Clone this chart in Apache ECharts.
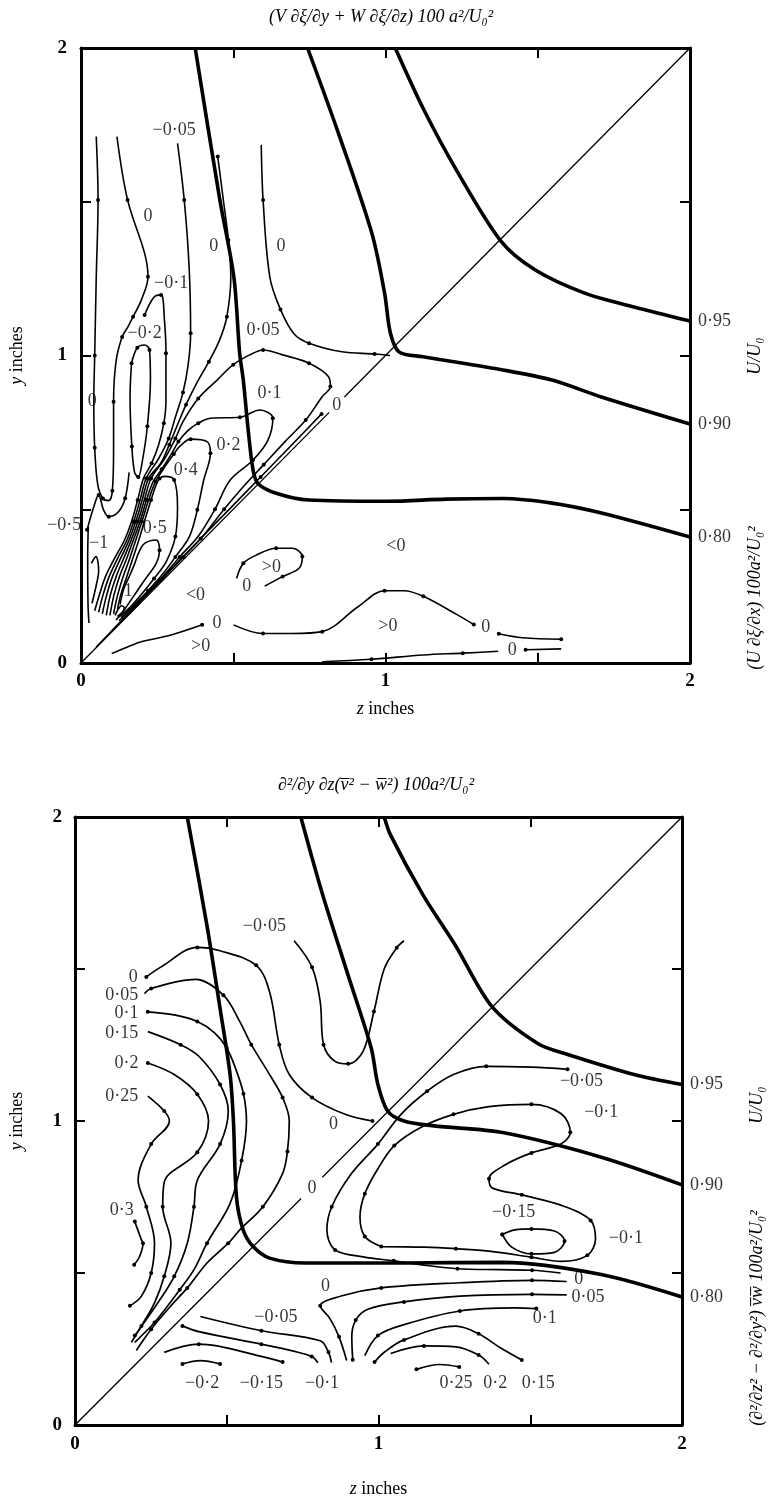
<!DOCTYPE html>
<html>
<head>
<meta charset="utf-8">
<script src="https://cdn.jsdelivr.net/npm/echarts@6/dist/echarts.min.js"></script>
<style>
  html, body { margin: 0; padding: 0; background: #fff; }
  #chart { width: 772px; height: 1499px; }
</style>
</head>
<body>
<div id="chart"></div>
<script>
// upper plot: (V dxi/dy + W dxi/dz) 100 a^2/U0^2, points are [z, y] in inches
const A_u95 = [[1.032,2.0],[1.123,1.805],[1.233,1.603],[1.379,1.372],[1.492,1.278],[1.654,1.203],[1.816,1.158],[2.0,1.112]]
const A_u90 = [[0.744,2.0],[0.845,1.724],[0.955,1.398],[0.997,1.203],[1.016,1.073],[1.045,1.011],[1.123,0.996],[1.385,0.953],[1.547,0.920],[1.709,0.865],[2.0,0.777]]
const A_u80 = [[0.375,2.0],[0.456,1.506],[0.502,1.255],[0.521,1.008],[0.533,0.92],[0.549,0.758],[0.565,0.628],[0.581,0.584],[0.641,0.552],[0.749,0.530],[1.006,0.526],[1.2,0.533],[1.385,0.535],[1.547,0.520],[1.709,0.488],[2.0,0.41]]
const A_diag = [[[0, 0],[0.815,0.815]],[[0.865,0.865],[2, 2]]]

const A_n1 = [[0.050,1.712],[0.056,1.506],[0.050,1.251],[0.045,1.0],[0.042,0.85],[0.045,0.70],[0.055,0.58],[0.072,0.535],[0.091,0.528],[0.103,0.56],[0.107,0.70],[0.107,0.85],[0.115,0.98],[0.135,1.06],[0.155,1.095],[0.171,1.126],[0.198,1.180],[0.220,1.256],[0.209,1.332],[0.153,1.506],[0.118,1.712]]
const A_n1b = [[0.020,0.433],[0.042,0.508],[0.058,0.546],[0.074,0.498],[0.091,0.476],[0.123,0.492],[0.145,0.536],[0.158,0.62]]
const A_n3 = [[0.166,0.975],[0.185,1.025],[0.209,1.034],[0.225,1.018],[0.228,0.92],[0.218,0.77],[0.202,0.66],[0.188,0.605],[0.176,0.62],[0.167,0.704],[0.161,0.866],[0.166,0.975]]
const A_n4 = [[0.209,1.132],[0.24,1.19],[0.263,1.197],[0.274,1.115],[0.279,1.007],[0.279,0.85],[0.272,0.78],[0.255,0.71],[0.232,0.65],[0.205,0.60],[0.186,0.53],[0.166,0.46],[0.143,0.40],[0.11,0.34],[0.08,0.28],[0.06,0.22],[0.045,0.17]]
const A_n5 = [[0.317,1.690],[0.339,1.506],[0.355,1.289],[0.360,1.072],[0.352,0.97],[0.335,0.88],[0.31,0.80],[0.288,0.73],[0.255,0.665],[0.214,0.60],[0.194,0.53],[0.173,0.46],[0.151,0.40],[0.12,0.34],[0.092,0.28],[0.072,0.22],[0.058,0.165]]
const A_n6 = [[0.449,1.647],[0.466,1.517],[0.484,1.376],[0.492,1.256],[0.479,1.126],[0.455,1.05],[0.42,0.98],[0.38,0.91],[0.345,0.84],[0.315,0.77],[0.29,0.71],[0.262,0.65],[0.222,0.60],[0.201,0.53],[0.18,0.46],[0.158,0.40],[0.13,0.34],[0.103,0.28],[0.084,0.22],[0.07,0.16]]
const A_p005 = [[0.083,0.155],[0.096,0.22],[0.115,0.28],[0.14,0.34],[0.165,0.40],[0.187,0.46],[0.208,0.53],[0.23,0.60],[0.275,0.665],[0.31,0.73],[0.335,0.785],[0.385,0.86],[0.447,0.92],[0.50,0.97],[0.554,1.002],[0.598,1.018],[0.662,1.002],[0.749,0.975],[0.813,0.931],[0.819,0.899],[0.792,0.866],[0.738,0.790],[0.67,0.72],[0.60,0.645],[0.53,0.57],[0.47,0.50],[0.40,0.412],[0.336,0.345],[0.27,0.277],[0.21,0.215],[0.16,0.162],[0.128,0.132]]
const A_p01 = [[0.095,0.155],[0.108,0.22],[0.126,0.28],[0.15,0.34],[0.172,0.40],[0.194,0.46],[0.215,0.53],[0.237,0.59],[0.265,0.63],[0.297,0.68],[0.32,0.72],[0.35,0.755],[0.385,0.78],[0.425,0.796],[0.522,0.799],[0.587,0.823],[0.630,0.796],[0.614,0.725],[0.565,0.660],[0.49,0.595],[0.44,0.50],[0.385,0.412],[0.324,0.345],[0.268,0.28],[0.21,0.22],[0.16,0.17],[0.125,0.138]]
const A_p02 = [[0.107,0.16],[0.12,0.22],[0.138,0.28],[0.16,0.34],[0.18,0.40],[0.20,0.46],[0.222,0.53],[0.245,0.59],[0.28,0.645],[0.305,0.68],[0.325,0.705],[0.360,0.728],[0.414,0.720],[0.425,0.682],[0.403,0.595],[0.382,0.498],[0.356,0.411],[0.31,0.345],[0.265,0.285],[0.22,0.235],[0.175,0.19],[0.132,0.148]]
const A_p04 = [[0.12,0.175],[0.13,0.22],[0.15,0.28],[0.17,0.34],[0.19,0.40],[0.208,0.46],[0.23,0.53],[0.245,0.575],[0.258,0.60],[0.275,0.607],[0.306,0.595],[0.317,0.508],[0.310,0.411],[0.28,0.33],[0.24,0.275],[0.2,0.225],[0.16,0.18],[0.125,0.15]]
const A_p05 = [[0.128,0.19],[0.14,0.24],[0.158,0.28],[0.175,0.32],[0.19,0.36],[0.209,0.389],[0.247,0.400],[0.258,0.367],[0.247,0.324],[0.209,0.270],[0.172,0.216],[0.14,0.17],[0.115,0.14]]
const A_p1 = [[0.112,0.155],[0.122,0.175],[0.133,0.186],[0.142,0.18],[0.135,0.164],[0.12,0.152]]
const A_m1 = [[0.024,0.443],[0.022,0.346],[0.023,0.194],[0.026,0.13]]
const A_m2 = [[0.034,0.324],[0.049,0.346],[0.058,0.302],[0.049,0.248],[0.036,0.194]]
const A_z0top = [[0.592,1.685],[0.598,1.506],[0.620,1.256],[0.655,1.15],[0.70,1.07],[0.749,1.040],[0.857,1.012],[0.964,1.005],[1.015,1.0]]
const A_z0low = [[0.79,0.81],[0.69,0.707],[0.59,0.605],[0.49,0.503],[0.393,0.405],[0.325,0.335],[0.26,0.268],[0.193,0.199],[0.115,0.119],[0.05,0.052]]
const A_gt0 = [[0.511,0.275],[0.533,0.324],[0.576,0.351],[0.641,0.373],[0.695,0.373],[0.727,0.346],[0.716,0.308],[0.662,0.281],[0.603,0.250]]
const A_w1 = [[0.101,0.031],[0.155,0.053],[0.198,0.069],[0.296,0.091],[0.398,0.124]]
const A_w2 = [[0.501,0.124],[0.598,0.096],[0.695,0.096],[0.792,0.102],[0.910,0.183],[0.997,0.235],[1.06,0.235],[1.124,0.217],[1.232,0.159],[1.29,0.125]]
const A_w3 = [[1.372,0.095],[1.45,0.082],[1.577,0.077]]
const A_b1 = [[0.792,0.004],[0.954,0.012],[1.124,0.026],[1.254,0.032],[1.37,0.038]]
const A_b2 = [[1.46,0.043],[1.577,0.046]]

const A_labels = [
  [0.306,1.733,'−0·05'],[0.220,1.452,'0'],[0.436,1.354,'0'],[0.657,1.354,'0'],[0.296,1.235,'−0·1'],
  [0.209,1.072,'−0·2'],[0.598,1.083,'0·05'],[0.037,0.850,'0'],[0.619,0.877,'0·1'],[0.484,0.709,'0·2'],
  [0.344,0.628,'0·4'],[0.242,0.438,'0·5'],[0.058,0.389,'−1'],[0.155,0.232,'1'],[0.840,0.838,'0'],
  [0.376,0.221,'<0'],[0.625,0.311,'>0'],[0.544,0.248,'0'],[1.034,0.378,'<0'],[-0.055,0.449,'−0·5'],
  [0.447,0.129,'0'],[0.393,0.053,'>0'],[1.008,0.118,'>0'],[1.329,0.116,'0'],[1.416,0.040,'0']
]
const A_uLabels = [[2,1.112,'0·95'],[2,0.777,'0·90'],[2,0.41,'0·80']]

// lower plot: d2/dydz (v2 - w2) 100 a^2/U0^2
const B_u95 = [[1.019,2.0],[1.039,1.942],[1.147,1.743],[1.255,1.575],[1.374,1.376],[1.526,1.254],[1.626,1.218],[1.842,1.153],[2.0,1.12]]
const B_u90 = [[0.744,2.0],[0.814,1.751],[0.900,1.479],[0.976,1.24],[0.998,1.120],[1.030,1.033],[1.084,1.0],[1.182,0.984],[1.409,0.962],[1.734,0.881],[2.0,0.79]]
const B_u80 = [[0.370,2.0],[0.435,1.642],[0.478,1.370],[0.511,1.153],[0.522,1.0],[0.532,0.750],[0.554,0.642],[0.587,0.587],[0.641,0.549],[0.760,0.533],[1.084,0.533],[1.409,0.535],[1.734,0.495],[2.0,0.421]]
const B_diag = [[[0, 0],[0.745,0.745]],[[0.815,0.815],[2, 2]]]

const B_p0 = [[0.235,1.474],[0.284,1.507],[0.403,1.571],[0.478,1.560],[0.597,1.512],[0.641,1.425],[0.673,1.251],[0.706,1.153],[0.781,1.077],[0.890,1.022],[0.98,1.0]]
const B_p005 = [[0.229,1.419],[0.251,1.436],[0.397,1.466],[0.489,1.414],[0.543,1.327],[0.581,1.251],[0.641,1.153],[0.684,1.077],[0.706,1.0],[0.700,0.90],[0.684,0.827],[0.619,0.718],[0.543,0.642],[0.505,0.598],[0.435,0.533],[0.370,0.451],[0.316,0.392],[0.251,0.315],[0.202,0.245]]
const B_p01 = [[0.240,1.359],[0.327,1.349],[0.403,1.327],[0.46,1.29],[0.50,1.24],[0.53,1.17],[0.555,1.09],[0.565,1.0],[0.549,0.870],[0.511,0.729],[0.435,0.598],[0.392,0.511],[0.345,0.445],[0.30,0.385],[0.262,0.337],[0.197,0.272]]
const B_p015 = [[0.240,1.294],[0.348,1.251],[0.408,1.213],[0.478,1.120],[0.505,1.033],[0.478,0.924],[0.403,0.805],[0.392,0.718],[0.370,0.598],[0.327,0.489],[0.273,0.402],[0.197,0.294]]
const B_p02 = [[0.240,1.191],[0.327,1.153],[0.403,1.088],[0.440,1.0],[0.403,0.897],[0.294,0.799],[0.289,0.718],[0.316,0.598],[0.294,0.489],[0.262,0.402],[0.219,0.326],[0.186,0.272]]
const B_p025 = [[0.240,1.082],[0.294,1.033],[0.311,1.0],[0.251,0.924],[0.208,0.805],[0.235,0.718],[0.262,0.598],[0.251,0.5],[0.219,0.424],[0.181,0.392]]
const B_p03 = [[0.197,0.669],[0.219,0.609],[0.224,0.598],[0.213,0.555],[0.195,0.527]]
const B_m005a = [[0.722,1.593],[0.781,1.506],[0.808,1.392],[0.819,1.251],[0.857,1.196],[0.900,1.188],[0.949,1.229],[0.985,1.36],[1.019,1.501],[1.06,1.57],[1.084,1.593]]
const B_m005b = [[1.623,1.170],[1.504,1.177],[1.355,1.180],[1.247,1.153],[1.160,1.098],[1.074,1.022],[0.998,0.924],[0.911,0.827],[0.846,0.718],[0.830,0.642],[0.857,0.576],[0.95,0.553],[1.05,0.54],[1.15,0.526],[1.26,0.514],[1.40,0.511],[1.506,0.509],[1.60,0.50]]
const B_m01 = [[1.009,0.587],[0.955,0.620],[0.939,0.685],[0.955,0.761],[0.998,0.843],[1.052,0.919],[1.139,0.979],[1.247,1.022],[1.364,1.047],[1.504,1.055],[1.602,1.024],[1.632,0.963],[1.602,0.925],[1.504,0.895],[1.418,0.856],[1.364,0.810],[1.374,0.780],[1.472,0.757],[1.613,0.719],[1.699,0.673],[1.715,0.612],[1.688,0.558],[1.602,0.538],[1.504,0.552],[1.364,0.572],[1.255,0.580],[1.15,0.585],[1.009,0.587]]
const B_m015 = [[1.408,0.627],[1.450,0.642],[1.504,0.645],[1.580,0.638],[1.613,0.605],[1.580,0.568],[1.504,0.563],[1.439,0.585],[1.408,0.627]]
const B_n005 = [[0.413,0.357],[0.614,0.310],[0.808,0.277],[0.835,0.24],[0.845,0.205]]
const B_n01 = [[0.354,0.326],[0.408,0.307],[0.614,0.266],[0.72,0.243],[0.78,0.225],[0.80,0.205]]
const B_n015 = [[0.294,0.239],[0.408,0.266],[0.614,0.226],[0.684,0.207]]
const B_n02 = [[0.354,0.201],[0.413,0.212],[0.478,0.201]]
const B_r0 = [[0.895,0.212],[0.87,0.29],[0.84,0.35],[0.808,0.392],[0.88,0.425],[1.009,0.451],[1.268,0.468],[1.506,0.476],[1.62,0.472]]
const B_r005 = [[0.915,0.215],[0.912,0.29],[0.925,0.345],[0.965,0.381],[1.084,0.405],[1.268,0.424],[1.506,0.43],[1.62,0.428]]
const B_r01 = [[0.955,0.228],[0.998,0.294],[1.084,0.33],[1.268,0.375],[1.45,0.385],[1.52,0.383]]
const B_r015 = [[0.987,0.207],[1.02,0.24],[1.084,0.28],[1.255,0.325],[1.33,0.30],[1.40,0.255],[1.472,0.214]]
const B_r02 = [[1.04,0.235],[1.15,0.26],[1.255,0.257],[1.33,0.23],[1.364,0.20]]
const B_r025 = [[1.125,0.183],[1.201,0.199],[1.266,0.191]]

const B_labels = [
  [0.192,1.474,'0'],[0.154,1.414,'0·05'],[0.170,1.354,'0·1'],[0.154,1.289,'0·15'],[0.170,1.191,'0·2'],
  [0.154,1.082,'0·25'],[0.154,0.707,'0·3'],[0.624,1.642,'−0·05'],[0.852,0.99,'0'],[0.781,0.778,'0'],
  [1.669,1.131,'−0·05'],[1.734,1.028,'−0·1'],[1.445,0.700,'−0·15'],[1.815,0.614,'−0·1'],
  [1.66,0.48,'0'],[1.69,0.42,'0·05'],[1.548,0.352,'0·1'],
  [1.255,0.138,'0·25'],[1.385,0.138,'0·2'],[1.526,0.138,'0·15'],
  [0.662,0.353,'−0·05'],[0.419,0.136,'−0·2'],[0.614,0.136,'−0·15'],[0.814,0.136,'−0·1'],[0.825,0.457,'0']
]
const B_uLabels = [[2,1.12,'0·95'],[2,0.79,'0·90'],[2,0.421,'0·80']]

const serif = "'Liberation Serif', 'DejaVu Serif', serif"
const chart = echarts.init(document.getElementById('chart'), null, { renderer: 'canvas' })

const series = []
let lineNo = 0
function addLines(list, g, width, dots, smooth) {
  list.forEach(d => {
    const k = lineNo++
    series.push({
      type: 'line', xAxisIndex: g * 2, yAxisIndex: g * 2, data: d,
      smooth: smooth, showSymbol: dots, symbol: 'circle',
      // stagger the measurement dots so neighbouring contours don't line up
      symbolSize: (v, p) => {
        if (g === 0 && v[1] < 0.42 && v[0] < 0.22) return 0
        return (p.dataIndex + k) % 2 === 0 ? 4 : 0
      },
      lineStyle: { color: '#000', width: width }, itemStyle: { color: '#000' },
      silent: true, animation: false
    })
  })
}
function addLabels(list, g, pos) {
  series.push({
    type: 'scatter', xAxisIndex: g * 2, yAxisIndex: g * 2, clip: false, silent: true, animation: false,
    symbolSize: 0,
    data: list.map(l => ({ value: [l[0], l[1]], name: l[2] })),
    label: {
      show: true, position: pos, distance: 8, formatter: p => p.name,
      color: '#000', fontFamily: serif, fontSize: 18
    }
  })
}

addLines(A_diag, 0, 1.3, false, false)
addLines([A_u95, A_u90, A_u80], 0, 3.6, false, 0.3)
addLines([A_n1, A_n1b, A_n3, A_n4, A_n5, A_n6, A_p005, A_p01, A_p02, A_p04, A_p05, A_p1, A_m1, A_m2,
  A_z0top, A_z0low, A_gt0, A_w1, A_w2, A_w3, A_b1, A_b2], 0, 1.6, true, 0.35)
addLabels(A_labels, 0, 'inside')
addLabels(A_uLabels, 0, 'right')

addLines(B_diag, 1, 1.3, false, false)
addLines([B_u95, B_u90, B_u80], 1, 3.6, false, 0.3)
addLines([B_p0, B_p005, B_p01, B_p015, B_p02, B_p025, B_p03, B_m005a, B_m005b, B_m01, B_m015,
  B_n005, B_n01, B_n015, B_n02, B_r0, B_r005, B_r01, B_r015, B_r02, B_r025], 1, 1.7, true, 0.35)
addLabels(B_labels, 1, 'inside')
addLabels(B_uLabels, 1, 'right')

function axis(g, pos, extra) {
  return Object.assign({
    type: 'value', gridIndex: g, position: pos, min: 0, max: 2, interval: 0.5,
    axisLine: { show: true, onZero: false, lineStyle: { color: '#000', width: 3 } },
    axisTick: { show: true, inside: true, length: 10, lineStyle: { color: '#000', width: 2 } },
    splitLine: { show: false },
    axisLabel: { show: false }
  }, extra)
}
function tickLabels(margin) {
  return {
    show: true, margin: margin, color: '#000', fontFamily: serif, fontWeight: 'bold', fontSize: 19,
    formatter: v => (Math.abs(v - Math.round(v)) < 1e-6 ? String(Math.round(v)) : '')
  }
}
const nameStyle = { color: '#000', fontFamily: serif, fontSize: 18, rich: { i: { fontStyle: 'italic', fontFamily: serif, fontSize: 18 } } }
const ital = 'italic 18px ' + serif

chart.setOption({
  animation: false,
  backgroundColor: '#fff',
  grid: [
    { left: 72, top: 48, width: 618, height: 615 },
    { left: 66, top: 817, width: 616, height: 613 }
  ],
  xAxis: [
    axis(0, 'bottom', { axisLabel: tickLabels(9), name: '{i|z} inches', nameLocation: 'middle', nameGap: 37, nameTextStyle: nameStyle }),
    axis(0, 'top', {}),
    axis(1, 'bottom', { axisLabel: tickLabels(10), name: '{i|z} inches', nameLocation: 'middle', nameGap: 55, nameTextStyle: nameStyle }),
    axis(1, 'top', {})
  ],
  yAxis: [
    axis(0, 'left', { axisLabel: tickLabels(14), name: '{i|y} inches', nameLocation: 'middle', nameGap: 55, nameTextStyle: nameStyle }),
    axis(0, 'right', {}),
    axis(1, 'left', { axisLabel: tickLabels(13), name: '{i|y} inches', nameLocation: 'middle', nameGap: 49, nameTextStyle: nameStyle }),
    axis(1, 'right', {})
  ],
  graphic: [
    { type: 'text', x: 381, y: 17, style: { text: '(V ∂ξ/∂y + W ∂ξ/∂z) 100 a²/U₀²', font: ital, fill: '#000', align: 'center', verticalAlign: 'middle' } },
    { type: 'text', x: 376, y: 785, style: { text: '∂²/∂y ∂z(v\u0305² − w\u0305²) 100a²/U₀²', font: ital, fill: '#000', align: 'center', verticalAlign: 'middle' } },
    { type: 'text', x: 755, y: 356, rotation: Math.PI / 2, style: { text: 'U/U₀', font: ital, fill: '#000', align: 'center', verticalAlign: 'middle' } },
    { type: 'text', x: 755, y: 598, rotation: Math.PI / 2, style: { text: '(U ∂ξ/∂x) 100a²/U₀²', font: ital, fill: '#000', align: 'center', verticalAlign: 'middle' } },
    { type: 'text', x: 757, y: 1105, rotation: Math.PI / 2, style: { text: 'U/U₀', font: ital, fill: '#000', align: 'center', verticalAlign: 'middle' } },
    { type: 'text', x: 757, y: 1318, rotation: Math.PI / 2, style: { text: '(∂²/∂z² − ∂²/∂y²) v\u0305w\u0305 100a²/U₀²', font: ital, fill: '#000', align: 'center', verticalAlign: 'middle' } }
  ],
  series: series
})
</script>
</body>
</html>
